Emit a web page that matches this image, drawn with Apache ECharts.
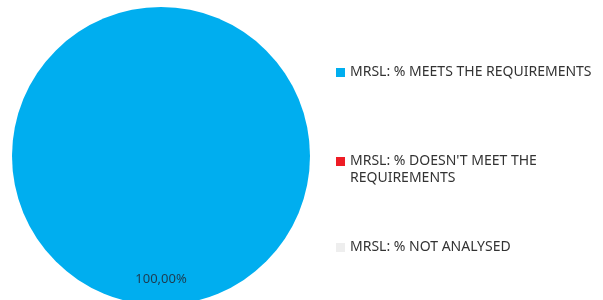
<!DOCTYPE html>
<html>
<head>
<meta charset="utf-8">
<script src="https://cdn.jsdelivr.net/npm/echarts@6/dist/echarts.min.js"></script>
<style>
html,body{margin:0;padding:0;background:#fff;}
#main{width:603px;height:300px;}
</style>
</head>
<body>
<div id="main"></div>
<script>
/*数据*/
var categories = ["MRSL: % MEETS THE REQUIREMENTS", "MRSL: % DOESN'T MEET THE REQUIREMENTS", "MRSL: % NOT ANALYSED"];
var values = [100, 0, 0];
var colors = ['#00AEEF', '#EE1C25', '#EEEEEE'];
var legendTops = [59, 131, 234];

var fontName = 'Noto Sans';

function fmtPct(v){
	var total = values.reduce(function(a, b){ return a + b; }, 0);
	return (v / total * 100).toFixed(2).replace('.', ',') + '%';
}

var pieData = categories.map(function(name, i){
	return {name: name, value: values[i], itemStyle: {color: colors[i]}};
});

// 每个图例单独放，方便对齐
var legends = categories.map(function(name, i){
	return {
		data: [name],
		orient: 'vertical',
		left: 331,
		top: legendTops[i],
		itemWidth: 9,
		itemHeight: 9,
		itemGap: 0,
		itemStyle: {borderWidth: 0},
		selectedMode: false,
		icon: 'rect',
		formatter: function(n){
			if(n.length > 32){
				// 长的换行，图标对齐第一行（前面加空行）
				var k = n.lastIndexOf(' ');
				return '\n' + n.substring(0, k) + '\n' + n.substring(k + 1);
			}
			return n;
		},
		textStyle: {
			color: '#333',
			fontFamily: fontName,
			fontSize: 14,
			lineHeight: 17
		}
	};
});

var chart = echarts.init(document.getElementById('main'));
chart.setOption({
	animation: false,
	legend: legends,
	series: [{
		type: 'pie',
		center: [161, 156],
		radius: [0, 149],
		startAngle: 90,
		clockwise: true,
		avoidLabelOverlap: false,
		data: pieData,
		label: {
			show: true,
			position: 'inside',
			offset: [0, 46],
			color: '#1d3b4f',
			fontFamily: fontName,
			fontSize: 13,
			formatter: function(p){
				return p.value > 0 ? fmtPct(p.value) : '';
			}
		},
		labelLine: {show: false},
		emphasis: {disabled: true}
	}]
});
</script>
</body>
</html>
